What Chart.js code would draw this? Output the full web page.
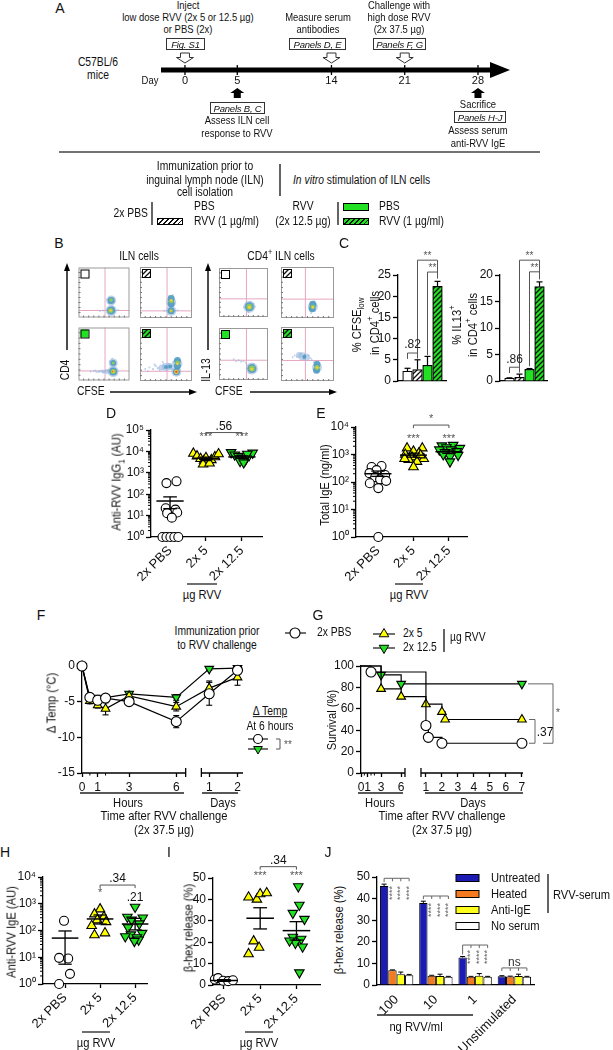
<!DOCTYPE html>
<html>
<head>
<meta charset="utf-8">
<title>RVV immunization figure</title>
<script src="https://cdn.jsdelivr.net/npm/chart.js@4.4.1/dist/chart.umd.min.js"></script>
<style>
  body { margin: 0; background: #fff; }
  #page { position: relative; width: 613px; height: 1050px; overflow: hidden; background: #fff;
          font-family: "Liberation Sans", Arial, sans-serif; color: #111; }
  #page canvas { position: absolute; }
  .t { position: absolute; white-space: nowrap; line-height: 1.15; }
  .fb { position: absolute; border: 1px solid #333; font-style: italic; font-size: 9.5px; box-sizing: border-box;
        display: flex; align-items: center; justify-content: center; white-space: nowrap; letter-spacing: -0.2px; }
  #deco { position: absolute; left: 0; top: 0; }
  sub, sup { font-size: 70%; line-height: 0; }
</style>
</head>
<body>
<div id="page"><svg id="deco" width="613" height="1050"></svg></div>
<script>
// ---------- data ----------
// A: timeline (days)
const timelineDays = [0, 5, 14, 21, 28];
const openArrowDays = [0, 14, 21];
const fillArrowDays = [5, 28];

// B: flow plots, points as [x, y, radius, density level] in 0-100 plot units
const ilnPbs = [[64,34,5,0],[64,34,3.5,1],[64,35,1.8,2],[64,14,5.5,0],[64,14,4,1],[63,14,2.5,2],[63,14,1.2,3],
  [57,36,1,0],[70,31,1,0],[60,29,1,0],[69,39,1,0],[56,15,1,0],[72,13,1,0],[78,15,1,0],[48,14,1,0],[42,13,1,0],[67,22,1,0]];
const ilnPbsRvv = [[60,31,5,0],[60,38,3.5,1],[60,28,3.5,1],[60,33,2.2,2],[60,35,1.2,3],[60,14,5,0],[60,14,3.5,1],[60,14,1.8,2],[59,14,1,3],
  [56,43,1,0],[64,24,1,0],[57,22,1,0],[63,45,1,0],[52,14,1,0],[68,13,1,0],[72,15,1,0],[47,14,1,0]];
const ilnRvv = [[68,33,4.5,0],[68,33,3,1],[68,33,1.5,2],[68,17,5.5,0],[68,17,4,1],[68,17,2.5,2],[68,17,1.5,3],[67,17,0.8,4],
  [24,17,1,0],[30,18,1,0],[35,16,1,0],[40,17,1.5,0],[45,18,1.5,0],[50,17,2,0],[56,17,2.5,0],[33,19,1,0],[48,15,1,0],[58,19,1,0],[62,37,1,0],[73,30,1,0],[66,41,1,0]];
const ilnRvvRvv = [[72,32,5,0],[72,38,3.5,1],[72,28,3.5,1],[72,34,2.2,2],[72,32,1.2,3],[70,17,5,0],[70,17,3.5,1],[70,17,2.2,3],[70,17,1.3,4],
  [50,26,4,0],[58,27,3.5,0],[42,25,3,0],[50,26,2,1],[58,27,2,1],[10,22,1,0],[18,25,1,0],[25,22,1.2,0],[30,28,1.2,0],[35,24,1.5,0],
  [28,31,1,0],[45,31,1,0],[55,32,1,0],[62,22,1,0],[38,20,1,0],[15,18,1,0],[44,35,1,0],[64,35,1,0]];
const cd4Pbs = [[62,21,6,0],[62,21,4.5,1],[62,21,3,2],[62,20,1.5,3],[55,26,1,0],[69,17,1,0],[58,13,1,0],[70,27,1,0],[64,31,1,0],[51,20,1,0],[73,21,1,0],[60,9,1,0]];
const cd4PbsRvv = [[60,22,5,0],[60,27,3.5,1],[59,18,3.5,1],[60,22,2.2,2],[60,21,1.2,3],[56,31,1,0],[64,14,1,0],[63,33,1,0],[55,17,1,0],[57,10,1,0],[66,24,1,0]];
const cd4Rvv = [[67,22,6,0],[67,22,4.5,1],[67,22,3,2],[67,21,1.5,3],[40,38,1,0],[45,35,1,0],[50,36,1,0],[55,33,1,0],[30,40,1,0],[60,28,1,0],[74,16,1,0],[62,13,1,0],[71,31,1,0],[35,36,1,0]];
const cd4RvvRvv = [[68,25,5,0],[68,31,3.5,1],[67,20,3.5,1],[68,25,2.5,2],[68,25,1.3,3],[40,46,4,0],[48,44,3.5,0],[34,48,3,0],[44,45,2,1],
  [30,45,1,0],[38,51,1,0],[45,49,1,0],[52,47,1,0],[56,42,1,0],[42,41,1,0],[26,47,1,0],[58,39,1,0],[62,35,1,0],[22,44,1,0]];
const flowGates = [[52,14],[52,14],[52,18],[52,18],[56,37],[46,37],[56,38],[46,38]];

// C: % CFSE low and % IL13+ (PBS, PBS+RVV, RVV, RVV+RVV)
const cCfseLow = [2.3, 2.7, 3.7, 22.3];
const cCfseSem = [0.7, 2.3, 2.1, 1.2];
const cIl13 = [0.5, 0.7, 2.2, 17.8];
const cIl13Sem = [0.1, 0.6, 0.15, 0.9];

// D, E, H, I: immunization groups, points as [offset within group, value]
const immGroups = ['2x PBS', '2x 5', '2x 12.5'];
const dPbs = [[-0.1,330],[0.18,400],[-0.12,22],[0.15,19],[-0.08,13],[0.2,14],[0.05,8],[-0.21,1],[-0.1,1],[0.01,1],[0.12,1],[0.23,1]];
const dLow = [[-0.35,8000],[-0.25,6000],[-0.15,4500],[-0.05,3800],[0.05,3200],[0.15,4000],[0.25,5500],[0.35,7500],[-0.08,2500],[0.1,2800],[0,5000]];
const dHigh = [[-0.3,9000],[-0.2,7000],[-0.1,6000],[0,5000],[0.1,4000],[0.2,6500],[0.3,8500],[-0.05,3500],[0.05,3000],[0.15,7500]];
const dMean = [48, 4800, 5500], dLo = [21, 4200, 4800], dHi = [75, 5400, 6200];

const ePbs = [[-0.18,350],[0.1,380],[-0.04,270],[-0.24,210],[0.2,180],[-0.08,150],[0.06,125],[-0.23,90],[0.23,110],[0.01,60],[0.01,1]];
const eLow = [[-0.18,1700],[0.25,1700],[0,1300],[-0.23,1000],[0.15,1100],[-0.04,800],[0.29,700],[-0.13,650],[0.1,550],[0,350],[0.2,950],[-0.25,700]];
const eHigh = [[-0.2,2100],[0.12,2200],[-0.07,1800],[0.31,1700],[-0.27,1500],[0.05,1500],[0.22,1300],[-0.11,1200],[0.03,850],[-0.16,1000],[0.26,950],[0.03,550]];
const eMean = [200, 950, 1260], eLo = [160, 800, 1100], eHi = [250, 1120, 1450];

const hPbs = [[-0.03,230],[-0.17,9.5],[0.09,9],[0.14,2.4],[-0.17,1]];
const hLow = [[0,630],[-0.16,410],[0.11,320],[-0.08,245],[0.17,210],[-0.24,150],[-0.16,68],[0.14,80]];
const hHigh = [[0,760],[-0.22,320],[0.22,300],[-0.1,250],[0.12,180],[-0.2,130],[0.2,80],[-0.12,70],[0.05,55],[-0.28,60],[0.1,45],[-0.02,40]];
const hMean = [52, 270, 175], hLo = [5.5, 175, 105], hHi = [96, 380, 285];

const iPbs = [[-0.25,2.6],[-0.16,3.2],[-0.02,2.0],[0.12,1.8],[0.25,2.2]];
const iLow = [[-0.32,41],[-0.09,40],[0,42.5],[0.18,43],[-0.18,20.5],[-0.03,17.5],[-0.32,14.5]];
const iHigh = [[0.05,46],[0.08,37.4],[-0.1,33.6],[0.22,30.8],[-0.1,22.4],[0.13,21.5],[-0.03,19.6],[-0.19,20.7],[0.17,17.9],[0.08,5.8]];
const iMean = [2.1, 31.2, 25.4], iLo = [1.7, 26.2, 21], iHi = [2.5, 36.1, 29.6];

// F: temperature change, times in hours
const fTimes = [0, 0.5, 1, 1.5, 3, 6, 24, 48];
const fPbs = [0, -4.4, -4.8, -4.5, -5.0, -7.8, -3.9, -0.6];
const fPbsSem = [0, 0.3, 0.3, 0.3, 0.2, 0.85, 1.6, 0.4];
const fLow = [0, -4.9, -5.5, -6.0, -4.2, -5.7, -3.1, -1.6];
const fLowSem = [0, 0.4, 0.4, 0.85, 0.3, 0.6, 1.0, 1.1];
const fHigh = [0, -4.6, -4.6, null, -3.9, -4.4, -0.4, -0.3];
const fHighSem = [0, 0.5, 0.5, null, 0.3, 0.4, 0.2, 0.3];

// G: survival (%), times in hours
const gPbsT = [0, 1.5, 24, 27.6, 48, 168];
const gPbs = [100, 94.4, 44.4, 33.3, 27.8, 27.8];
const gLowT = [0, 3, 6, 24, 48, 52.8, 168];
const gLow = [100, 78.6, 71.4, 64.3, 57.1, 50, 50];
const gHighT = [0, 3, 6, 168];
const gHigh = [100, 91.7, 83.3, 83.3];

// J: beta-hex release (%)
const jDoses = ['100', '10', '1', 'Unstimulated'];
const jUntreated = [45.8, 38.0, 12.7, 4.0], jUntreatedSem = [0.9, 0.8, 0.5, 0.3];
const jHeated = [6.8, 4.3, 3.8, 3.9], jHeatedSem = [0.2, 0.2, 0.2, 0.2];
const jAntiIgE = [5.0, 4.2, 4.3, 4.2], jAntiIgESem = [1.0, 0.8, 1.0, 0.8];
const jNoSerum = [4.5, 3.8, 3.8, 3.8], jNoSerumSem = [0.4, 0.2, 0.2, 0.2];
const jLegend = ['Untreated', 'Heated', 'Anti-IgE', 'No serum'];

// ---------- helpers ----------
const FR = '"Liberation Sans", Arial, sans-serif';
const GREEN = '#22e022', YELLOW = '#ffff00';
const J_COLORS = ['#1c1cb4', '#f47a20', '#ffff1e', '#ffffff'];
const SUP = ['⁰', '¹', '²', '³', '⁴', '⁵'];

Chart.defaults.font.family = FR;
Chart.defaults.font.size = 12;
Chart.defaults.color = '#111';
Chart.defaults.animation = false;
Chart.defaults.plugins.legend.display = false;
Chart.defaults.plugins.tooltip.enabled = false;

const page = document.getElementById('page');
const svg = document.getElementById('deco');

// HTML text; narrowed horizontally to match the condensed face of the original
function label(html, x, y, o = {}) {
  const d = document.createElement('div');
  d.className = 't';
  d.innerHTML = html;
  d.style.left = x + 'px';
  d.style.top = y + 'px';
  d.style.fontSize = (o.size || 12) + 'px';
  if (o.color) d.style.color = o.color;
  const sx = o.sx === undefined ? 0.86 : o.sx;
  const ax = o.align === 'l' ? '0' : o.align === 'r' ? '-100%' : '-50%';
  d.style.transformOrigin = o.align === 'l' ? 'left center' : o.align === 'r' ? 'right center' : 'center';
  d.style.transform = `translate(${ax},-50%)` + (o.rot ? ` rotate(${o.rot}deg)` : '') + ` scaleX(${sx})`;
  page.appendChild(d);
}
function fbox(text, x0, y0, x1, y1) {
  const d = document.createElement('div');
  d.className = 'fb';
  d.textContent = text;
  d.style.cssText += `left:${x0}px;top:${y0}px;width:${x1 - x0}px;height:${y1 - y0}px;`;
  page.appendChild(d);
}
function swatch(x, y, w, h, bg) {
  const d = document.createElement('div');
  d.style.cssText = `position:absolute;left:${x}px;top:${y}px;width:${w}px;height:${h}px;border:1px solid #000;box-sizing:border-box;background:${bg};`;
  page.appendChild(d);
}
function sv(tag, attrs) {
  const e = document.createElementNS('http://www.w3.org/2000/svg', tag);
  for (const k in attrs) e.setAttribute(k, attrs[k]);
  svg.appendChild(e);
  return e;
}
function sline(x1, y1, x2, y2, w = 1.3, c = '#111') { sv('line', {x1, y1, x2, y2, stroke: c, 'stroke-width': w}); }
function stri(cx, cy, r, down, fill) {
  const h = r * 0.87;
  const p = down ? [[cx, cy + r], [cx - h, cy - r / 2], [cx + h, cy - r / 2]] : [[cx, cy - r], [cx - h, cy + r / 2], [cx + h, cy + r / 2]];
  sv('polygon', {points: p.map(q => q.join(',')).join(' '), fill, stroke: '#000', 'stroke-width': 1});
}
function scirc(cx, cy, r) { sv('circle', {cx, cy, r, fill: '#fff', stroke: '#000', 'stroke-width': 1.1}); }

function drawLine(ctx, pts, w = 1, c = '#000') {
  ctx.save();
  ctx.strokeStyle = c; ctx.lineWidth = w;
  ctx.beginPath();
  pts.forEach((p, i) => i ? ctx.lineTo(p[0], p[1]) : ctx.moveTo(p[0], p[1]));
  ctx.stroke();
  ctx.restore();
}
function drawText(ctx, s, x, y, o = {}) {
  ctx.save();
  ctx.font = `${o.size || 12}px ${FR}`;
  ctx.fillStyle = o.color || '#111';
  ctx.textAlign = o.align || 'center';
  ctx.textBaseline = 'middle';
  ctx.translate(x, y);
  if (o.rot) ctx.rotate(o.rot);
  ctx.fillText(s, 0, 0);
  ctx.restore();
}
function hatch(bg) {
  const c = document.createElement('canvas');
  c.width = 5; c.height = 5;
  const g = c.getContext('2d');
  g.fillStyle = bg; g.fillRect(0, 0, 5, 5);
  g.strokeStyle = '#111'; g.lineWidth = 1.3;
  g.beginPath();
  g.moveTo(-1, 6); g.lineTo(6, -1);
  g.moveTo(-1, 1); g.lineTo(1, -1);
  g.moveTo(4, 6); g.lineTo(6, 4);
  g.stroke();
  return g.createPattern(c, 'repeat');
}
function merge(a, b) {
  for (const k in b) {
    const v = b[k];
    if (v && typeof v === 'object' && !Array.isArray(v) && a[k] && typeof a[k] === 'object') merge(a[k], v);
    else a[k] = v;
  }
  return a;
}
const yBase = () => ({
  border: {color: '#000', width: 1.3},
  grid: {drawOnChartArea: false, color: '#000', tickLength: 5, tickWidth: 1.3},
  ticks: {padding: 2, color: '#111', font: {size: 12}}
});
const xBase = () => ({
  border: {color: '#000', width: 1.3},
  grid: {drawOnChartArea: false, color: '#000', tickLength: 4, tickWidth: 1.3},
  ticks: {padding: 2, color: '#111', font: {size: 13}}
});
function logAxis(maxExp) {
  return merge(yBase(), {
    type: 'logarithmic', min: 1, max: Math.pow(10, maxExp),
    afterBuildTicks: s => { s.ticks = SUP.slice(0, maxExp + 1).map((_, e) => ({value: Math.pow(10, e)})); },
    ticks: {callback: v => '10' + SUP[Math.round(Math.log10(v))]}
  });
}
const minorLog = {
  id: 'minorLog', defaults: {on: false},
  afterDraw(chart, args, opts) {
    if (!opts.on) return;
    const s = chart.scales.y, ctx = chart.ctx;
    for (let d = s.min; d < s.max; d *= 10)
      for (let k = 2; k < 10; k++) {
        const y = s.getPixelForValue(d * k);
        drawLine(ctx, [[s.right, y], [s.right - 3, y]], 1);
      }
  }
};
Chart.register(minorLog);

// place a chart so its plot area lands on given page coordinates
function place(box, area, cfg) {
  const cv = document.createElement('canvas');
  cv.width = box.w; cv.height = box.h;
  cv.style.left = box.x + 'px'; cv.style.top = box.y + 'px';
  page.appendChild(cv);
  const o = cfg.options;
  o.responsive = false;
  const sx = o.scales.x, sy = o.scales.y;
  const showX = sx.display !== false, showY = sy.display !== false;
  o.layout = {padding: {
    left: showY ? 0 : area.x0 - box.x,
    right: box.x + box.w - area.x1,
    top: area.y0 - box.y,
    bottom: showX ? 0 : box.y + box.h - area.y1
  }};
  if (showY) sy.afterFit = s => { s.width = area.x0 - box.x; };
  if (showX) sx.afterFit = s => { s.height = box.y + box.h - area.y1; };
  return new Chart(cv, cfg);
}

const MARK = [
  {pointStyle: 'circle', pointBackgroundColor: '#fff', pointRadius: 4.5},
  {pointStyle: 'triangle', pointBackgroundColor: YELLOW, pointRadius: 5.5},
  {pointStyle: 'triangle', pointRotation: 180, pointBackgroundColor: GREEN, pointRadius: 5.5}
];

// ---------- A: timeline ----------
const timelinePlugin = {
  id: 'timeline',
  afterDraw(chart) {
    const {ctx, scales: {x}, chartArea: ca} = chart;
    const y0 = ca.bottom;
    drawLine(ctx, [[ca.left, y0], [ca.right - 16, y0]], 5);
    ctx.save();
    ctx.fillStyle = '#000';
    ctx.beginPath(); ctx.moveTo(ca.right - 20, y0 - 8); ctx.lineTo(ca.right, y0); ctx.lineTo(ca.right - 20, y0 + 8); ctx.closePath(); ctx.fill();
    ctx.restore();
    timelineDays.forEach(d => {
      const xp = x.getPixelForValue(d);
      drawLine(ctx, [[xp, y0 - 5], [xp, y0 + 5]], 1.3);
    });
    openArrowDays.forEach(d => {
      const c = x.getPixelForValue(d), t = y0 - 17;
      ctx.save();
      ctx.fillStyle = '#fff'; ctx.strokeStyle = '#333'; ctx.lineWidth = 1;
      ctx.beginPath();
      [[c - 4.5, t], [c + 4.5, t], [c + 4.5, t + 4.5], [c + 8.5, t + 4.5], [c, t + 10], [c - 8.5, t + 4.5], [c - 4.5, t + 4.5]]
        .forEach((p, i) => i ? ctx.lineTo(p[0], p[1]) : ctx.moveTo(p[0], p[1]));
      ctx.closePath(); ctx.fill(); ctx.stroke();
      ctx.restore();
    });
    fillArrowDays.forEach(d => {
      const c = x.getPixelForValue(d), t = y0 + 18;
      ctx.save();
      ctx.fillStyle = '#000';
      ctx.beginPath();
      [[c, t], [c + 7, t + 5], [c + 3.5, t + 5], [c + 3.5, t + 10], [c - 3.5, t + 10], [c - 3.5, t + 5], [c - 7, t + 5]]
        .forEach((p, i) => i ? ctx.lineTo(p[0], p[1]) : ctx.moveTo(p[0], p[1]));
      ctx.closePath(); ctx.fill();
      ctx.restore();
    });
  }
};
place({x: 140, y: 48, w: 385, h: 52}, {x0: 161, x1: 510, y0: 60, y1: 70}, {
  type: 'line', data: {datasets: []},
  options: {scales: {
    x: {type: 'linear', min: -2.29, max: 31.06, border: {display: false}, grid: {display: false, drawTicks: false},
        afterBuildTicks: s => { s.ticks = timelineDays.map(v => ({value: v})); },
        ticks: {padding: 4, autoSkip: false, maxRotation: 0, font: {size: 11}, color: '#111'}},
    y: {display: false, min: 0, max: 1}
  }},
  plugins: [timelinePlugin]
});

// ---------- B: flow plots ----------
const FLOW_COLORS = ['rgba(150,182,222,0.6)', 'rgba(72,150,192,0.85)', '#8cc95a', '#f3d03a', '#e8632b'];
const markerFills = [['#fff', hatch('#fff')], [GREEN, hatch(GREEN)]];
function flowPlot(frame, pts, gate, marker) {
  const datasets = [4, 3, 2, 1, 0].map(l => ({
    data: pts.filter(p => p[3] === l).map(([x, y, r]) => ({x, y, r})),
    backgroundColor: FLOW_COLORS[l], borderWidth: 0
  }));
  const deco = {
    id: 'flowDeco',
    beforeDatasetsDraw(chart) {
      const {ctx, scales: {x, y}, chartArea: ca} = chart;
      const gx = x.getPixelForValue(gate[0]), gy = y.getPixelForValue(gate[1]);
      drawLine(ctx, [[gx, ca.top], [gx, ca.bottom]], 1, '#e7a6c0');
      drawLine(ctx, [[ca.left, gy], [ca.right, gy]], 1, '#e7a6c0');
    },
    afterDraw(chart) {
      const {ctx, chartArea: ca} = chart;
      ctx.save();
      ctx.strokeStyle = '#9a9a9a'; ctx.lineWidth = 1;
      ctx.strokeRect(ca.left + 0.5, ca.top + 0.5, ca.width - 1, ca.height - 1);
      for (let k = 1; k < 10; k++) {
        const xp = ca.left + ca.width * k / 10, yp = ca.top + ca.height * k / 10;
        drawLine(ctx, [[xp, ca.bottom], [xp, ca.bottom - 2]], 1, '#777');
        drawLine(ctx, [[ca.left, yp], [ca.left + 2, yp]], 1, '#777');
      }
      ctx.fillStyle = markerFills[marker[0]][marker[1]];
      ctx.fillRect(ca.left + 2, ca.top + 2, 8, 8);
      ctx.strokeStyle = '#000';
      ctx.strokeRect(ca.left + 2.5, ca.top + 2.5, 8, 8);
      ctx.restore();
    }
  };
  place({x: frame[0] - 2, y: frame[1] - 2, w: frame[2] - frame[0] + 4, h: frame[3] - frame[1] + 4},
        {x0: frame[0], x1: frame[2], y0: frame[1], y1: frame[3]}, {
    type: 'bubble', data: {datasets},
    options: {scales: {x: {display: false, min: 0, max: 100}, y: {display: false, min: 0, max: 100}}},
    plugins: [deco]
  });
}
const flowSets = [ilnPbs, ilnPbsRvv, ilnRvv, ilnRvvRvv, cd4Pbs, cd4PbsRvv, cd4Rvv, cd4RvvRvv];
const flowFrames = [[75,264,133,321],[137,264,195,321],[75,324,133,384],[137,324,195,384],
                    [215,264,272,321],[278,264,337,321],[215,324,272,384],[278,324,337,384]];
flowSets.forEach((pts, i) => flowPlot(flowFrames[i], pts, flowGates[i], [Math.floor((i % 4) / 2), i % 2]));

// ---------- C: bar charts ----------
function cExtras(sems, brackets) {
  return {
    id: 'cExtras',
    afterDatasetsDraw(chart) {
      const {ctx, scales: {y}} = chart;
      const bars = chart.getDatasetMeta(0).data;
      const vals = chart.data.datasets[0].data;
      bars.forEach((b, i) => {
        const yt = y.getPixelForValue(vals[i].y + sems[i]);
        drawLine(ctx, [[b.x, b.y], [b.x, yt]], 1.2);
        drawLine(ctx, [[b.x - 3, yt], [b.x + 3, yt]], 1.2);
      });
      brackets.forEach(k => {
        const xa = bars[k.a].x, xb = bars[k.b].x, yy = y.getPixelForValue(k.y);
        drawLine(ctx, [[xa, y.getPixelForValue(k.la)], [xa, yy], [xb, yy], [xb, y.getPixelForValue(k.lb)]], 1, '#555');
        drawText(ctx, k.t, (xa + xb) / 2, yy - (k.dy || 4), {size: k.s || 10, color: k.s ? '#222' : '#555'});
      });
    }
  };
}
function barC(box, area, vals, sems, yMax, brackets) {
  const fills = ['#fff', hatch('#fff'), GREEN, hatch(GREEN)];
  place(box, area, {
    type: 'bar',
    data: {datasets: [{data: vals.map((v, i) => ({x: i + 1, y: v})), backgroundColor: fills,
                       borderColor: '#000', borderWidth: 1.2, barThickness: 9.6}]},
    options: {scales: {
      x: {type: 'linear', offset: false, min: 0.05, max: 0.05 + (area.x1 - area.x0) / 10,
          ticks: {display: false}, grid: {display: false}, border: {color: '#000', width: 1.3}},
      y: merge(yBase(), {min: 0, max: yMax, ticks: {stepSize: 5}})
    }},
    plugins: [cExtras(sems, brackets)]
  });
}
barC({x: 372, y: 250, w: 81, h: 141}, {x0: 398, x1: 446, y0: 275, y1: 381}, cCfseLow, cCfseSem, 25, [
  {a: 1, b: 3, y: 28.5, la: 5.3, lb: 24.2, t: '**'},
  {a: 2, b: 3, y: 25.7, la: 6.1, lb: 24.2, t: '**'},
  {a: 0, b: 1, y: 6.6, la: 5.2, lb: 5.6, t: '.82', s: 12, dy: 8}
]);
barC({x: 474, y: 250, w: 80, h: 141}, {x0: 500, x1: 547, y0: 275, y1: 381}, cIl13, cIl13Sem, 20, [
  {a: 1, b: 3, y: 22.8, la: 1.9, lb: 19.2, t: '**'},
  {a: 2, b: 3, y: 20.6, la: 2.8, lb: 19.2, t: '**'},
  {a: 0, b: 1, y: 2.6, la: 1.5, lb: 1.6, t: '.86', s: 12, dy: 8}
]);

// ---------- D, E, H, I: dot plots ----------
function bracketPx(ctx, xa, xb, yy, leg) {
  drawLine(ctx, [[xa, yy + leg], [xa, yy], [xb, yy], [xb, yy + leg]], 1, '#555');
}
function dotChart(box, area, xr, yScale, series, mean, lo, hi, notes) {
  const datasets = series.map((pts, g) => Object.assign({
    data: pts.map(([dx, v]) => ({x: g + dx, y: v})),
    pointBorderColor: '#000', pointBorderWidth: 1.1, showLine: false, clip: false
  }, MARK[g]));
  const extras = {
    id: 'dotExtras',
    afterDatasetsDraw(chart) {
      const {ctx, scales: {x, y}} = chart;
      mean.forEach((m, g) => {
        const xc = x.getPixelForValue(g), half = x.getPixelForValue(g + 0.38) - xc;
        const ym = y.getPixelForValue(m), yl = y.getPixelForValue(lo[g]), yh = y.getPixelForValue(hi[g]);
        drawLine(ctx, [[xc - half, ym], [xc + half, ym]], 1.5);
        drawLine(ctx, [[xc, yl], [xc, yh]], 1.3);
        drawLine(ctx, [[xc - half / 2, yl], [xc + half / 2, yl]], 1.3);
        drawLine(ctx, [[xc - half / 2, yh], [xc + half / 2, yh]], 1.3);
      });
      notes(ctx, x, y);
    }
  };
  place(box, area, {
    type: 'scatter', data: {datasets},
    options: {
      scales: {
        x: merge(xBase(), {type: 'linear', min: xr[0], max: xr[1],
          afterBuildTicks: s => { s.ticks = immGroups.map((_, i) => ({value: i})); },
          ticks: {callback: v => immGroups[v], minRotation: 45, maxRotation: 45, autoSkip: false}}),
        y: yScale
      },
      plugins: {minorLog: {on: yScale.type === 'logarithmic'}}
    },
    plugins: [extras]
  });
}
const starOpt = {size: 11, color: '#555'};
dotChart({x: 95, y: 415, w: 175, h: 170}, {x0: 151, x1: 262, y0: 430, y1: 537}, [-0.53, 2.56], logAxis(5),
  [dPbs, dLow, dHigh], dMean, dLo, dHi, (ctx, x, y) => {
    [1, 2].forEach(g => drawText(ctx, '***', x.getPixelForValue(g), y.getPixelForValue(45000), starOpt));
    bracketPx(ctx, x.getPixelForValue(1), x.getPixelForValue(2), y.getPixelForValue(76000), 3);
    drawText(ctx, '.56', x.getPixelForValue(1.5), y.getPixelForValue(150000), {size: 12});
  });
dotChart({x: 300, y: 410, w: 175, h: 175}, {x0: 356, x1: 467, y0: 427, y1: 537}, [-0.62, 2.51], logAxis(4),
  [ePbs, eLow, eHigh], eMean, eLo, eHi, (ctx, x, y) => {
    [1, 2].forEach(g => drawText(ctx, '***', x.getPixelForValue(g), y.getPixelForValue(3600), starOpt));
    bracketPx(ctx, x.getPixelForValue(1), x.getPixelForValue(2), y.getPixelForValue(11750), 3);
    drawText(ctx, '*', x.getPixelForValue(1.5), y.getPixelForValue(19500), starOpt);
  });
dotChart({x: 10, y: 860, w: 145, h: 185}, {x0: 43, x1: 147, y0: 877, y1: 984}, [-0.63, 2.34], logAxis(4),
  [hPbs, hLow, hHigh], hMean, hLo, hHi, (ctx, x, y) => {
    drawText(ctx, '*', x.getPixelForValue(1), y.getPixelForValue(2500), starOpt);
    drawText(ctx, '.21', x.getPixelForValue(2), y.getPixelForValue(1700), {size: 12});
    bracketPx(ctx, x.getPixelForValue(1), x.getPixelForValue(2), y.getPixelForValue(5000), 3);
    drawText(ctx, '.34', x.getPixelForValue(1.5), y.getPixelForValue(8300), {size: 12});
  });
dotChart({x: 185, y: 850, w: 142, h: 195}, {x0: 213, x1: 321, y0: 878, y1: 985}, [-0.3, 2.66],
  merge(yBase(), {min: 0, max: 50, ticks: {stepSize: 10}}),
  [iPbs, iLow, iHigh], iMean, iLo, iHi, (ctx, x, y) => {
    [1, 2].forEach(g => drawText(ctx, '***', x.getPixelForValue(g), y.getPixelForValue(51), starOpt));
    bracketPx(ctx, x.getPixelForValue(1), x.getPixelForValue(2), y.getPixelForValue(55.3), 3);
    drawText(ctx, '.34', x.getPixelForValue(1.5), y.getPixelForValue(58.3), {size: 12});
  });

// ---------- F, G: time courses with broken time axis ----------
const fPos = t => t <= 7 ? t : 8.1 + (t / 24 - 1) * 1.8;
const gPos = t => t <= 7 ? t : 9.7 + (t / 24 - 1) * 2.39;
function lineSeries(xs, ys, k, extra) {
  return Object.assign({
    data: xs.map((x, i) => ({x, y: ys[i]})).filter(p => p.y !== null),
    borderColor: '#000', borderWidth: 1.2, pointBorderColor: '#000', pointBorderWidth: 1.1, clip: false, tension: 0
  }, MARK[k], {pointRadius: 5}, extra || {});
}
function brokenAxis(segs, minors) {
  return {
    id: 'brokenAxis',
    afterDraw(chart) {
      const {ctx, scales: {x}, chartArea: ca} = chart;
      const yb = ca.bottom;
      segs.forEach(([a, b, capA, capB]) => {
        const xa = x.getPixelForValue(a), xb = x.getPixelForValue(b);
        drawLine(ctx, [[xa, yb], [xb, yb]], 1.3);
        if (capA) drawLine(ctx, [[xa, yb - 5], [xa, yb + 4]], 1.3);
        if (capB) drawLine(ctx, [[xb, yb - 5], [xb, yb + 4]], 1.3);
      });
      minors.forEach(v => drawLine(ctx, [[x.getPixelForValue(v), yb], [x.getPixelForValue(v), yb + 2.5]], 1));
    }
  };
}
const fTickPos = [0, 1, 3, 6, fPos(24), fPos(48)];
const fTickLab = ['0', '1', '3', '6', '1', '2'];
const fErr = {
  id: 'fErr',
  beforeDatasetsDraw(chart) {
    const {ctx, scales: {x, y}} = chart;
    [[fPbs, fPbsSem], [fLow, fLowSem], [fHigh, fHighSem]].forEach(([m, s]) => m.forEach((v, i) => {
      if (v === null || !s[i]) return;
      const xp = x.getPixelForValue(fPos(fTimes[i]));
      const y1 = y.getPixelForValue(v - s[i]), y2 = y.getPixelForValue(v + s[i]);
      drawLine(ctx, [[xp, y1], [xp, y2]], 1.1);
      drawLine(ctx, [[xp - 3, y1], [xp + 3, y1]], 1.1);
      drawLine(ctx, [[xp - 3, y2], [xp + 3, y2]], 1.1);
    }));
  }
};
place({x: 30, y: 655, w: 220, h: 140}, {x0: 82, x1: 243, y0: 666, y1: 773}, {
  type: 'line',
  data: {datasets: [
    lineSeries(fTimes.map(fPos), fPbs, 0),
    lineSeries(fTimes.map(fPos), fLow, 1),
    lineSeries(fTimes.map(fPos), fHigh, 2, {spanGaps: true})
  ]},
  options: {scales: {
    x: merge(xBase(), {type: 'linear', min: 0, max: 10.25, border: {display: false},
      afterBuildTicks: s => { s.ticks = fTickPos.map(v => ({value: v})); },
      ticks: {callback: (v, i) => fTickLab[i], autoSkip: false, maxRotation: 0, padding: 3, font: {size: 12}}}),
    y: merge(yBase(), {min: -15, max: 0, ticks: {stepSize: 5}})
  }},
  plugins: [fErr, brokenAxis([[0, 6.6, false, true], [7.6, 10.25, true, false]], [0.5, 1.5])]
});

const gTickPos = [0, 1, 3, 6, 1, 2, 3, 4, 5, 6, 7].map((v, i) => i < 4 ? v : gPos(24 * v));
const gTickLab = ['0', '1', '3', '6', '1', '2', '3', '4', '5', '6', '7'];
const gNotes = {
  id: 'gNotes',
  afterDraw(chart) {
    const {ctx, scales: {y}, chartArea: ca} = chart;
    const r = ca.right;
    const yH = y.getPixelForValue(gHigh[gHigh.length - 1]);
    const yL = y.getPixelForValue(gLow[gLow.length - 1]);
    const yP = y.getPixelForValue(gPbs[gPbs.length - 1]);
    drawLine(ctx, [[r + 5, yH], [r + 30, yH], [r + 30, yP], [r + 20, yP]], 1, '#666');
    drawLine(ctx, [[r + 6, yL], [r + 12, yL], [r + 12, yP], [r + 6, yP]], 1, '#666');
    drawText(ctx, '*', r + 35, y.getPixelForValue(56), starOpt);
    drawText(ctx, '.37', r + 22, y.getPixelForValue(38), {size: 12});
  }
};
const firstHidden = n => [0].concat(Array(n - 1).fill(5));
place({x: 325, y: 655, w: 245, h: 140}, {x0: 361, x1: 523, y0: 666, y1: 773}, {
  type: 'line',
  data: {datasets: [
    lineSeries(gPbsT.map(gPos), gPbs, 0, {stepped: true, pointRadius: firstHidden(gPbs.length)}),
    lineSeries(gLowT.map(gPos), gLow, 1, {stepped: true, pointRadius: firstHidden(gLow.length)}),
    lineSeries(gHighT.map(gPos), gHigh, 2, {stepped: true, pointRadius: firstHidden(gHigh.length)})
  ]},
  options: {scales: {
    x: merge(xBase(), {type: 'linear', min: 0, max: 24.2, border: {display: false},
      afterBuildTicks: s => { s.ticks = gTickPos.map(v => ({value: v})); },
      ticks: {callback: (v, i) => gTickLab[i], autoSkip: false, maxRotation: 0, padding: 3, font: {size: 12}}}),
    y: merge(yBase(), {min: 0, max: 100, ticks: {stepSize: 20}})
  }},
  plugins: [gNotes, brokenAxis([[0, 6.57, false, true], [8.96, 24.2, true, false]], [0.5, 1.5, 2])]
});

// ---------- J: grouped bars ----------
const jSeries = [jUntreated, jHeated, jAntiIgE, jNoSerum];
const jSems = [jUntreatedSem, jHeatedSem, jAntiIgESem, jNoSerumSem];
const jSig = [[49.4, 42.6], [41.2, 34.7], [18.5, 13]];
const jExtras = {
  id: 'jExtras',
  afterDatasetsDraw(chart) {
    const {ctx, scales: {y}} = chart;
    jSeries.forEach((vals, d) => {
      const meta = chart.getDatasetMeta(d);
      vals.forEach((v, i) => {
        const b = meta.data[i], yt = y.getPixelForValue(v + jSems[d][i]);
        drawLine(ctx, [[b.x, b.y], [b.x, yt]], 1);
        drawLine(ctx, [[b.x - 2.5, yt], [b.x + 2.5, yt]], 1);
      });
    });
    jSig.forEach(([yb, yt], i) => {
      const xs = jSeries.map((_, d) => chart.getDatasetMeta(d).data[i].x);
      const ybp = y.getPixelForValue(yb);
      drawLine(ctx, [[xs[0], y.getPixelForValue(jUntreated[i] + jUntreatedSem[i]) - 2], [xs[0], ybp], [xs[3], ybp]], 1, '#666');
      for (let k = 1; k < 4; k++) {
        drawLine(ctx, [[xs[k], ybp], [xs[k], ybp + 3]], 1, '#666');
        drawText(ctx, '****', xs[k], y.getPixelForValue(yt), {rot: -Math.PI / 2, size: 9, color: '#666'});
      }
    });
    const xs = jSeries.map((_, d) => chart.getDatasetMeta(d).data[3].x);
    const ybn = y.getPixelForValue(7.9);
    drawLine(ctx, [[xs[0], ybn], [xs[3], ybn]], 1, '#666');
    xs.forEach(xp => drawLine(ctx, [[xp, ybn], [xp, ybn + 3]], 1, '#666'));
    drawText(ctx, 'ns', (xs[0] + xs[3]) / 2, y.getPixelForValue(10.5), {size: 12, color: '#333'});
  }
};
place({x: 350, y: 860, w: 190, h: 190}, {x0: 377, x1: 534, y0: 877, y1: 985}, {
  type: 'bar',
  data: {labels: jDoses, datasets: jSeries.map((vals, d) => ({
    data: vals, backgroundColor: J_COLORS[d], borderColor: '#000', borderWidth: 1,
    categoryPercentage: 0.85, barPercentage: 1
  }))},
  options: {scales: {
    x: merge(xBase(), {grid: {display: false}, ticks: {minRotation: 45, maxRotation: 45, autoSkip: false, padding: 3}}),
    y: merge(yBase(), {min: 0, max: 50, ticks: {stepSize: 10}})
  }},
  plugins: [jExtras]
});

// ---------- static decorations (lines, arrows, legend marks) ----------
sline(59, 152, 540, 152, 1.5, '#444');
sline(280, 164, 280, 196);
sline(152, 202, 152, 225);
sline(338, 202, 338, 225);
// B axis arrows
sline(67, 350, 67, 270, 1.5); sv('polygon', {points: '67,263 64,271 70,271', fill: '#000'});
sline(208, 350, 208, 270, 1.5); sv('polygon', {points: '208,263 205,271 211,271', fill: '#000'});
sline(110, 392, 190, 392, 1.5); sv('polygon', {points: '197,392 189,389 189,395', fill: '#000'});
sline(250, 392, 330, 392, 1.5); sv('polygon', {points: '337,392 329,389 329,395', fill: '#000'});
// group underlines
[[187, 217, 584], [395, 423, 584], [80, 184, 793], [202, 238, 793], [358, 403, 793], [425, 523, 793],
 [82, 110, 1032], [245, 273, 1032], [377, 473, 1015]].forEach(([a, b, y]) => sline(a, y, b, y, 1.3, '#222'));
// F/G legend
sline(285, 633, 306, 633, 1.2); scirc(295, 633, 5);
sline(373, 634, 395, 634, 1.2); stri(384, 634, 5.5, false, YELLOW);
sline(373, 648, 395, 648, 1.2); stri(384, 648, 5.5, true, GREEN);
sline(444, 629, 444, 652, 1.3);
// F inset legend
sline(248, 739, 268, 739, 1.2); scirc(258, 739, 4.5);
sline(248, 749, 268, 749, 1.2); stri(258, 749, 5, true, GREEN);
sv('path', {d: 'M276,739 H280 V749 H276', fill: 'none', stroke: '#555', 'stroke-width': 1});
// J legend
[878, 894, 910, 926].forEach((y, d) => sv('rect', {x: 456, y: y - 3.5, width: 23, height: 7, fill: J_COLORS[d], stroke: '#000', 'stroke-width': 1}));
sline(548, 874, 548, 913, 1.3);

// ---------- text ----------
const P = {size: 14, sx: 1};
// A
label('A', 60, 8, P);
label('Inject', 188, 5, {size: 11});
label('low dose RVV (2x 5 or 12.5 µg)', 188, 17, {size: 11});
label('or PBS (2x)', 188, 29, {size: 11});
fbox('Fig. S1', 166, 38, 205, 50);
label('Measure serum', 318, 17, {size: 11});
label('antibodies', 318, 29, {size: 11});
fbox('Panels D, E', 289, 38, 346, 50);
label('Challenge with', 399, 5, {size: 11});
label('high dose RVV', 399, 17, {size: 11});
label('(2x 37.5 µg)', 399, 29, {size: 11});
fbox('Panels F, G', 373, 38, 426, 50);
label('C57BL/6', 98, 63, {size: 12});
label('mice', 98, 76, {size: 12});
label('Day', 150, 80, {size: 11});
fbox('Panels B, C', 210, 102, 265, 114);
label('Assess ILN cell', 237, 120, {size: 11});
label('response to RVV', 237, 133, {size: 11});
label('Sacrifice', 478, 104, {size: 11});
fbox('Panels H-J', 454, 111, 506, 123);
label('Assess serum', 478, 130, {size: 11});
label('anti-RVV IgE', 478, 143, {size: 11});
// legend for B/C
label('Immunization prior to', 205, 167);
label('inguinal lymph node (ILN)', 205, 181);
label('cell isolation', 205, 193);
label('<i>In vitro</i> stimulation of ILN cells', 293, 181, {align: 'l'});
label('2x PBS', 148, 214, {align: 'r'});
label('PBS', 194, 207, {align: 'l'});
label('RVV (1 µg/ml)', 194, 222, {align: 'l'});
swatch(157, 218, 26, 7, 'repeating-linear-gradient(135deg,#111 0 1.3px,#fff 1.3px 3.4px)');
label('RVV', 303, 207);
label('(2x 12.5 µg)', 303, 222);
swatch(343, 203, 26, 8, GREEN);
swatch(343, 218, 26, 7, `repeating-linear-gradient(135deg,#111 0 1.3px,${GREEN} 1.3px 3.4px)`);
label('PBS', 379, 207, {align: 'l'});
label('RVV (1 µg/ml)', 379, 222, {align: 'l'});
// B / C
label('B', 59, 243, P);
label('ILN cells', 139, 257, {size: 12});
label('CD4<sup>+</sup> ILN cells', 281, 257, {size: 12});
label('C', 344, 243, P);
label('CD4', 66, 370, {size: 12, rot: -90});
label('IL-13', 207, 370, {size: 12, rot: -90});
label('CFSE', 77, 392, {size: 12, align: 'l'});
label('CFSE', 215, 392, {size: 12, align: 'l'});
label('% CFSE<sub>low</sub>', 357, 325, {size: 13, rot: -90});
label('in CD4<sup>+</sup> cells', 375, 323, {size: 13, rot: -90});
label('% IL13<sup>+</sup>', 457, 325, {size: 13, rot: -90});
label('in CD4<sup>+</sup> cells', 473, 325, {size: 13, rot: -90});
// D / E
label('D', 111, 413, P);
label('E', 321, 413, P);
label('Anti-RVV IgG<sub>1</sub> (AU)', 117, 482, {size: 13, rot: -90});
label('Total IgE (ng/ml)', 325, 485, {size: 13, rot: -90});
label('µg RVV', 202, 595, {size: 13});
label('µg RVV', 409, 595, {size: 13});
// F / G
label('F', 41, 615, P);
label('G', 318, 615, P);
label('Immunization prior', 217, 632, {size: 12});
label('to RVV challenge', 217, 646, {size: 12});
label('2x PBS', 317, 633, {size: 12, align: 'l'});
label('2x 5', 403, 634, {size: 12, align: 'l'});
label('2x 12.5', 403, 648, {size: 12, align: 'l'});
label('µg RVV', 450, 638, {size: 12, align: 'l'});
label('Δ Temp (°C)', 52, 703, {size: 13, rot: -90});
label('<u>Δ Temp</u>', 270, 712, {size: 12});
label('At 6 hours', 270, 727, {size: 12});
label('**', 288, 745, {size: 10, color: '#555', sx: 1});
label('Hours', 128, 803, {size: 13});
label('Days', 223, 803, {size: 13});
label('Time after RVV challenge', 164, 816, {size: 13});
label('(2x 37.5 µg)', 164, 830, {size: 13});
label('Survival (%)', 332, 720, {size: 13, rot: -90});
label('Hours', 380, 803, {size: 13});
label('Days', 473, 803, {size: 13});
label('Time after RVV challenge', 442, 816, {size: 13});
label('(2x 37.5 µg)', 442, 830, {size: 13});
// H / I / J
label('H', 0, 852, Object.assign({align: 'l'}, P));
label('I', 169, 852, P);
label('J', 328, 852, P);
label('Anti-RVV IgE (AU)', 12, 932, {size: 13, rot: -90});
label('β-hex release (%)', 189, 928, {size: 13, rot: -90});
label('β-hex release (%)', 339, 930, {size: 13, rot: -90});
label('µg RVV', 96, 1043, {size: 13});
label('µg RVV', 259, 1043, {size: 13});
label('ng RVV/ml', 416, 1027, {size: 13});
jLegend.forEach((s, d) => label(s, 491, 878 + 16 * d, {size: 13, align: 'l'}));
label('RVV-serum', 553, 895, {size: 13, align: 'l'});
</script>
</body>
</html>
